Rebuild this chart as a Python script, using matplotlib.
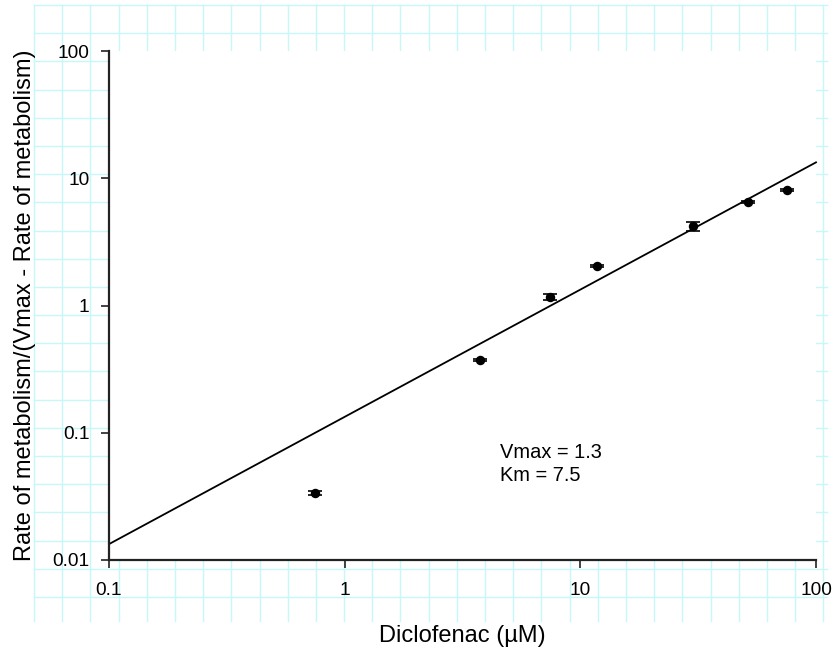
import matplotlib
matplotlib.use("Agg")
import matplotlib.pyplot as plt
from matplotlib.lines import Line2D
from matplotlib.ticker import FixedLocator, FixedFormatter, NullLocator

plt.rcParams['font.family'] = ['Liberation Sans', 'DejaVu Sans']

# Data
conc = [0.75, 3.75, 7.4, 11.8, 30.0, 51.5, 75.0]
ratio = [0.0336, 0.373, 1.17, 2.04, 4.2, 6.5, 8.1]
ratio_err = [0.0012, 0.008, 0.06, 0.03, 0.35, 0.15, 0.1]
Vmax = 1.3
Km = 7.5
fit_x = [0.1, 100]
fit_y = [v / Km for v in fit_x]
xticks = [0.1, 1, 10, 100]
xticklabels = ['0.1', '1', '10', '100']
yticks = [0.01, 0.1, 1, 10, 100]
yticklabels = ['0.01', '0.1', '1', '10', '100']

W, H = 836, 649
fig = plt.figure(figsize=(W / 100, H / 100), dpi=100)

# background graph-paper grid (figure pixels)
gc = '#c8f7f7'
step = 28.19
x0g, y0g = 34, 5
for k in range(29):
    xp = x0g + k * step
    fig.add_artist(Line2D([xp / W, xp / W], [1 - 5 / H, 1 - 621 / H],
                          transform=fig.transFigure, color=gc, lw=1.0, zorder=-5))
for k in range(22):
    yp = y0g + k * step
    fig.add_artist(Line2D([34 / W, 827 / W], [1 - yp / H, 1 - yp / H],
                          transform=fig.transFigure, color=gc, lw=1.0, zorder=-5))

left, right, top, bottom = 109, 816, 51, 560
ax = fig.add_axes([left / W, 1 - bottom / H, (right - left) / W, (bottom - top) / H])
ax.set_facecolor('white')
ax.set_xscale('log')
ax.set_yscale('log')
ax.set_xlim(0.1, 100)
ax.set_ylim(0.01, 100)

ax.plot(fit_x, fit_y, color='black', lw=1.3, clip_on=False)
ax.errorbar(conc, ratio, yerr=ratio_err, fmt='o', color='black', ms=5.8,
            capsize=5, elinewidth=1.2, capthick=1.2, clip_on=False)

ax.text(0.5530, 0.1880, f'Vmax = {Vmax}\nKm = {Km}', transform=ax.transAxes,
        fontsize=14.4, va='center', ha='left', linespacing=1.28)

for s in ['top', 'right']:
    ax.spines[s].set_visible(False)
for s in ['left', 'bottom']:
    ax.spines[s].set_linewidth(1.6)
    ax.spines[s].set_color('#222222')

ax.xaxis.set_major_locator(FixedLocator(xticks))
ax.xaxis.set_major_formatter(FixedFormatter(xticklabels))
ax.yaxis.set_major_locator(FixedLocator(yticks))
ax.yaxis.set_major_formatter(FixedFormatter(yticklabels))
ax.xaxis.set_minor_locator(NullLocator())
ax.yaxis.set_minor_locator(NullLocator())
ax.tick_params(axis='both', which='major', direction='out', length=5.5, width=1.2,
               labelsize=13.7, colors='#222222', labelcolor='black')
ax.tick_params(axis='x', pad=10)
ax.tick_params(axis='y', pad=8.5)

ax.set_xlabel('Diclofenac (µM)', fontsize=17, labelpad=19)
ax.set_ylabel('Rate of metabolism/(Vmax - Rate of metabolism)', fontsize=17, labelpad=11.5)

fig.savefig('out.png', dpi=100)
